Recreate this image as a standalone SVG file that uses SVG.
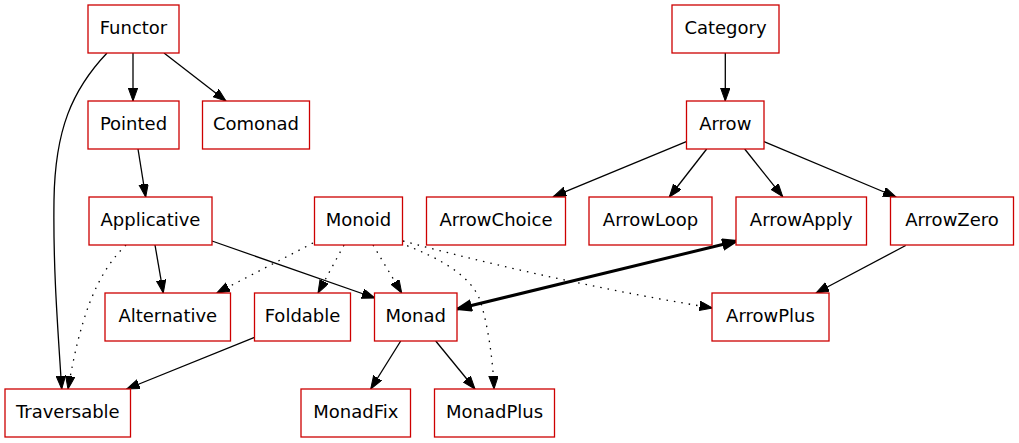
<svg xmlns="http://www.w3.org/2000/svg" width="1019" height="443" viewBox="0 0 1019 443">
<style>
.n rect{fill:#fff;stroke:#cd0000;stroke-width:1.3}
.n text{font-family:"DejaVu Sans",sans-serif;font-size:18px;text-anchor:middle;fill:#000}
.e path{fill:none;stroke:#000;stroke-width:1.3}
.e .d{stroke-dasharray:1.5 6}
.e .b{stroke-width:3}
</style>
<defs>
<marker id="a" markerUnits="userSpaceOnUse" markerWidth="14" markerHeight="10" refX="13" refY="4.7" orient="auto">
<path d="M0,0 L13,4.7 L0,9.4 z" fill="#000" stroke="#000" stroke-width="1"/>
</marker>
<marker id="ab" markerUnits="userSpaceOnUse" markerWidth="18" markerHeight="14" refX="15" refY="6" orient="auto-start-reverse">
<path d="M1,1 L15,6 L1,11 z" fill="#000" stroke="#000" stroke-width="2"/>
</marker>
</defs>
<rect width="1019" height="443" fill="#fff"/>
<g id="edges" class="e">
<path d="M133,53 L133,101" marker-end="url(#a)"/>
<path d="M164,53 L226,101" marker-end="url(#a)"/>
<path d="M107,53 C72,90 55,130 54,200 C53,270 58,330 61.7,389" marker-end="url(#a)"/>
<path d="M138,149 L145.7,197" marker-end="url(#a)"/>
<path d="M155,245 L163.3,293" marker-end="url(#a)"/>
<path d="M212,241 L375,298" marker-end="url(#a)"/>
<path class="d" d="M126,245 C95,275 80,320 68,389" marker-end="url(#a)"/>
<path class="d" d="M313,243 L216.7,293" marker-end="url(#a)"/>
<path class="d" d="M344,245 L318,293" marker-end="url(#a)"/>
<path class="d" d="M373,245 L401.7,293" marker-end="url(#a)"/>
<path class="d" d="M400,243 C440,258 470,275 480,300 C488,325 493,360 494,389" marker-end="url(#a)"/>
<path class="d" d="M403,241 Q560,283 712.5,308" marker-end="url(#a)"/>
<path d="M725.3,53 L725.3,101" marker-end="url(#a)"/>
<path d="M686.3,141.7 L553.3,196.7" marker-end="url(#a)"/>
<path d="M706.7,149 L669.3,197" marker-end="url(#a)"/>
<path d="M744.7,149 L782.7,196.7" marker-end="url(#a)"/>
<path d="M764,141.7 L896,197" marker-end="url(#a)"/>
<path d="M905.7,245.5 L816,293" marker-end="url(#a)"/>
<path class="b" d="M457,309 L737,241" marker-start="url(#ab)" marker-end="url(#ab)"/>
<path d="M400.7,341 L370.7,389" marker-end="url(#a)"/>
<path d="M435.7,341 L475,389" marker-end="url(#a)"/>
<path d="M254.5,337.3 L126.7,389" marker-end="url(#a)"/>
</g>
<g id="Functor" class="n"><rect x="88" y="5" width="91" height="48"/><text x="133.5" y="34">Functor</text></g>
<g id="Pointed" class="n"><rect x="88" y="101" width="91" height="48"/><text x="133.5" y="130">Pointed</text></g>
<g id="Comonad" class="n"><rect x="202.5" y="101" width="107" height="48"/><text x="256" y="130">Comonad</text></g>
<g id="Category" class="n"><rect x="672" y="5" width="107" height="48"/><text x="725.5" y="34">Category</text></g>
<g id="Arrow" class="n"><rect x="686.5" y="101" width="77.5" height="48"/><text x="725.3" y="130">Arrow</text></g>
<g id="Applicative" class="n"><rect x="89" y="197" width="123" height="48"/><text x="150.5" y="226">Applicative</text></g>
<g id="Monoid" class="n"><rect x="314.5" y="197" width="88" height="48"/><text x="358.5" y="226">Monoid</text></g>
<g id="ArrowChoice" class="n"><rect x="426.5" y="197" width="139" height="48"/><text x="496" y="226">ArrowChoice</text></g>
<g id="ArrowLoop" class="n"><rect x="589" y="197" width="123" height="48"/><text x="650.5" y="226">ArrowLoop</text></g>
<g id="ArrowApply" class="n"><rect x="736" y="197" width="130.5" height="48"/><text x="801.3" y="226">ArrowApply</text></g>
<g id="ArrowZero" class="n"><rect x="890.5" y="197" width="123" height="48"/><text x="952" y="226">ArrowZero</text></g>
<g id="Alternative" class="n"><rect x="105" y="293" width="125.5" height="48"/><text x="167.8" y="322">Alternative</text></g>
<g id="Foldable" class="n"><rect x="254.5" y="293" width="96" height="48"/><text x="302.5" y="322">Foldable</text></g>
<g id="Monad" class="n"><rect x="374.5" y="293" width="82.5" height="48"/><text x="415.8" y="322">Monad</text></g>
<g id="ArrowPlus" class="n"><rect x="712" y="293" width="117" height="48"/><text x="770.5" y="322">ArrowPlus</text></g>
<g id="Traversable" class="n"><rect x="5" y="389" width="125.5" height="48"/><text x="67.8" y="418">Traversable</text></g>
<g id="MonadFix" class="n"><rect x="301" y="389" width="109.5" height="48"/><text x="355.8" y="418">MonadFix</text></g>
<g id="MonadPlus" class="n"><rect x="434.5" y="389" width="120" height="48"/><text x="494.5" y="418">MonadPlus</text></g>
</svg>
